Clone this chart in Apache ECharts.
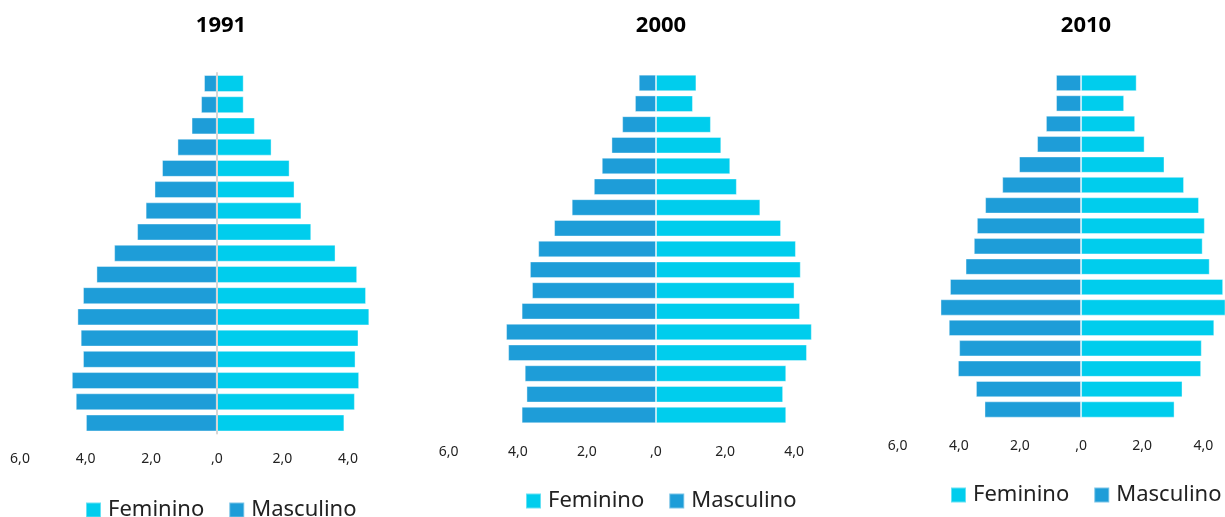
<!DOCTYPE html>
<html>
<head>
<meta charset="utf-8">
<script src="https://cdn.jsdelivr.net/npm/echarts@6/dist/echarts.min.js"></script>
<style>
html,body{margin:0;padding:0;background:#fff;}
#c{width:1225px;height:517px;}
</style>
</head>
<body>
<div id="c"></div>
<script>
// Age groups, top (oldest) to bottom (youngest)
const ageGroups = ['80+','75-79','70-74','65-69','60-64','55-59','50-54','45-49','40-44','35-39','30-34','25-29','20-24','15-19','10-14','5-9','0-4'];
const years = ['1991','2000','2010'];
const seriesNames = ['Feminino','Masculino'];

// Percent of population, top (80+) to bottom (0-4)
const masc1991 = [0.39,0.48,0.77,1.20,1.67,1.90,2.17,2.43,3.13,3.67,4.08,4.25,4.15,4.08,4.42,4.30,3.99];
const fem1991  = [0.82,0.82,1.16,1.67,2.22,2.37,2.58,2.88,3.62,4.28,4.55,4.65,4.32,4.23,4.34,4.21,3.89];
const masc2000 = [0.50,0.61,0.98,1.29,1.57,1.80,2.44,2.95,3.41,3.65,3.59,3.89,4.34,4.28,3.80,3.75,3.89];
const fem2000  = [1.17,1.07,1.59,1.89,2.15,2.34,3.02,3.62,4.05,4.19,4.01,4.17,4.51,4.37,3.77,3.68,3.77];
const masc2010 = [0.82,0.82,1.15,1.44,2.03,2.58,3.14,3.41,3.51,3.78,4.29,4.60,4.33,3.99,4.03,3.44,3.16];
const fem2010  = [1.82,1.41,1.77,2.08,2.73,3.37,3.86,4.05,3.98,4.21,4.65,4.75,4.36,3.95,3.93,3.32,3.06];

const COL_F = '#00CDED';
const COL_M = '#1E9DD8';
const FONT = '"Noto Sans", "Open Sans", sans-serif';

const mascData = [masc1991, masc2000, masc2010];
const femData = [fem1991, fem2000, fem2010];

// layout per panel
const layouts = [
  {left: 20,    width: 393.6, top: 72.9, height: 360.7, axMax: 6,    labelMargin: 18, legendLeft: 85,  legendTop: 499, showZero: true},
  {left: 448.7, width: 414.6, top: 72.6, height: 352.8, axMax: 6,    labelMargin: 20, legendLeft: 525, legendTop: 490, showZero: false},
  {left: 897.7, width: 327.3, top: 72.8, height: 346.9, axMax: 4.71, labelMargin: 19, legendLeft: 950, legendTop: 484, showZero: false}
];
const titleCenters = [216, 656, 1081];

function fmt(v){
  const a = Math.abs(v);
  if (a === 0) return ',0';
  return a.toFixed(1).replace('.', ',');
}

const option = {
  animation: false,
  backgroundColor: '#fff',
  title: years.map((y,i)=>({
    text: y, left: titleCenters[i], top: 10, textAlign: 'center',
    textStyle: {fontFamily: FONT, fontWeight: 'bold', fontSize: 22, color: '#000'}
  })),
  legend: years.map((y,i)=>({
    data: seriesNames.map(n=>({name: n + ' ' + y, icon: 'rect'})),
    formatter: (name)=>name.split(' ')[0],
    left: layouts[i].legendLeft, top: layouts[i].legendTop, width: 400, padding: 0,
    itemWidth: 15, itemHeight: 15, itemGap: 24,
    textStyle: {fontFamily: FONT, fontSize: 22, color: '#222', padding: [0,0,0,2]},
    selectedMode: false
  })),
  grid: layouts.map(l=>({left: l.left, width: l.width, top: l.top, height: l.height, containLabel: false})),
  xAxis: layouts.map((l,i)=>({
    type: 'value', gridIndex: i, min: -6, max: l.axMax, interval: 2,
    splitLine: {show: false}, axisLine: {show: false}, axisTick: {show: false},
    axisLabel: {
      show: true, margin: l.labelMargin, showMaxLabel: false,
      formatter: fmt, fontFamily: FONT, fontSize: 14, color: '#222'
    }
  })),
  yAxis: layouts.map((l,i)=>({
    type: 'category', gridIndex: i, data: ageGroups, inverse: true,
    axisLabel: {show: false}, axisTick: {show: false}, splitLine: {show: false},
    axisLine: {show: l.showZero, onZero: true, lineStyle: {color: '#D6D6D6', width: 2}},
    z: 5
  })),
  series: []
};

years.forEach((y,i)=>{
  option.series.push({
    name: 'Masculino ' + y, type: 'bar', xAxisIndex: i, yAxisIndex: i,
    stack: 's' + i, barWidth: '80%', clip: true,
    data: mascData[i].map(v=>-v),
    itemStyle: {color: COL_M, borderColor: 'rgba(255,255,255,0.4)', borderWidth: 1}
  });
  option.series.push({
    name: 'Feminino ' + y, type: 'bar', xAxisIndex: i, yAxisIndex: i,
    stack: 's' + i, barWidth: '80%', clip: true,
    data: femData[i],
    itemStyle: {color: COL_F, borderColor: 'rgba(255,255,255,0.4)', borderWidth: 1}
  });
});

const chart = echarts.init(document.getElementById('c'), null, {renderer: 'canvas'});
chart.setOption(option);
</script>
</body>
</html>
